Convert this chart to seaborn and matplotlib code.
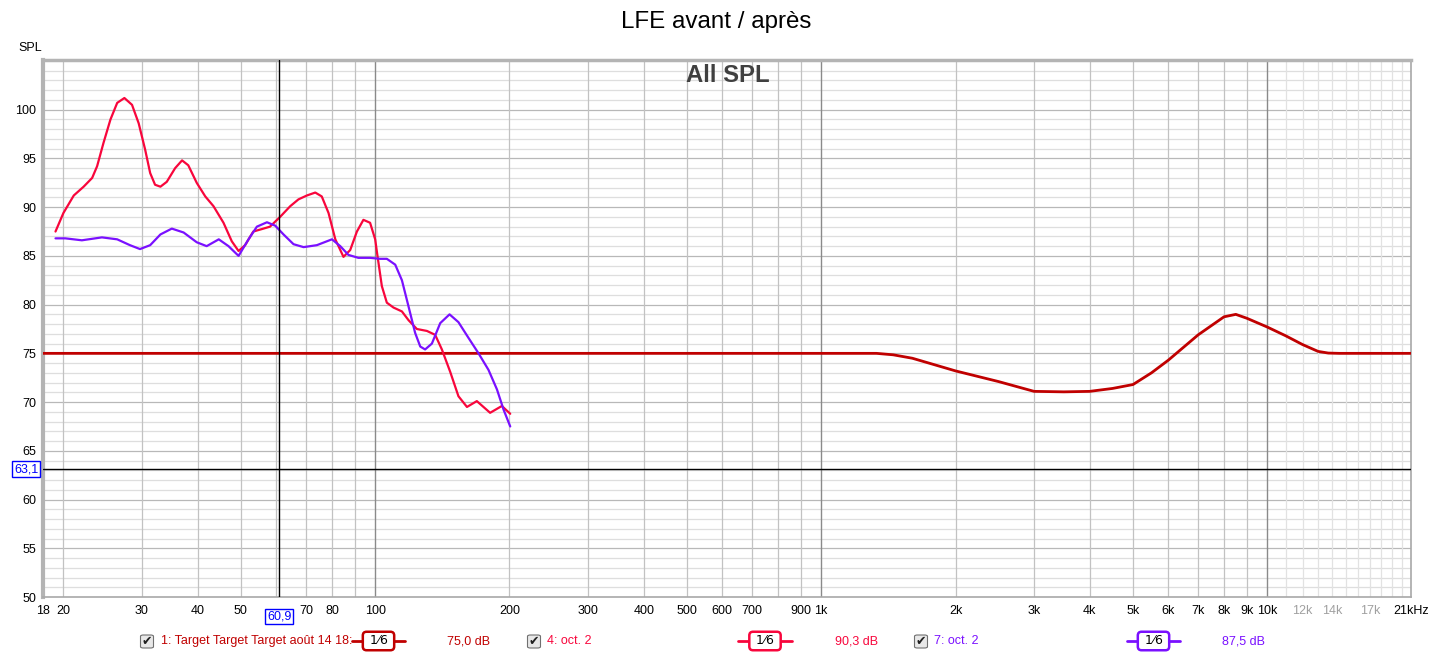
import numpy as np
import pandas as pd
import matplotlib
matplotlib.use("Agg")
import matplotlib.pyplot as plt
import seaborn as sns
from matplotlib.lines import Line2D
from matplotlib.patches import FancyBboxPatch

# ---------------- data ----------------
target_freq = [18, 1000, 1330, 1450, 1600, 2000, 2500, 3000, 3500, 4000, 4500, 5000,
               5500, 6000, 7000, 8000, 8500, 9000, 10000, 11000, 12000, 13000, 13700, 14500, 21000]
target_spl = [75.0, 75.0, 75.0, 74.85, 74.5, 73.2, 72.1, 71.1, 71.05, 71.1, 71.4, 71.8,
              73.0, 74.3, 76.9, 78.75, 79.0, 78.6, 77.7, 76.8, 75.9, 75.2, 75.03, 75.0, 75.0]

red_freq = [19.2, 20.0, 21.1, 22.2, 23.2, 23.8, 24.6, 25.5, 26.4, 27.4, 28.5, 29.5,
            30.5, 31.3, 32.1, 33.0, 34.1, 35.6, 36.9, 38.1, 39.8, 41.6, 43.4, 45.7,
            47.7, 49.4, 51.1, 53.3, 55.7, 58.1, 61.2, 64.5, 67.3, 70.3, 73.4, 75.9,
            78.6, 81.4, 84.9, 87.9, 91.0, 94.1, 97.4, 100.0, 100.9, 103.5, 106.2,
            109.9, 114.8, 118.8, 124.0, 130.6, 136.3, 141.1, 147.3, 153.7, 160.6,
            169.0, 181.0, 192.3, 200.8]
red_spl = [87.5, 89.4, 91.2, 92.1, 93.0, 94.2, 96.6, 99.0, 100.7, 101.2, 100.5, 98.6,
           95.9, 93.5, 92.3, 92.1, 92.6, 94.0, 94.8, 94.3, 92.5, 91.1, 90.1, 88.4,
           86.5, 85.5, 86.1, 87.5, 87.75, 88.0, 89.0, 90.1, 90.8, 91.2, 91.5, 91.1,
           89.4, 86.7, 84.9, 85.6, 87.5, 88.7, 88.4, 86.7, 85.4, 81.9, 80.2,
           79.7, 79.3, 78.4, 77.5, 77.3, 76.9, 75.4, 73.1, 70.6, 69.5,
           70.1, 68.9, 69.6, 68.8]

purple_freq = [19.2, 20.2, 22.0, 24.4, 26.4, 28.2, 29.7, 31.3, 33.0, 35.0, 37.2, 39.8,
               41.9, 44.6, 46.9, 49.4, 52.0, 54.3, 57.2, 59.7, 62.3, 65.6, 69.1, 74.0,
               80.0, 83.5, 87.1, 91.7, 97.4, 102.6, 106.2, 110.9, 114.8, 118.8, 122.9,
               126.2, 129.4, 134.0, 139.9, 146.8, 153.7, 161.8, 170.5, 179.5, 187.5,
               194.1, 200.8]
purple_spl = [86.8, 86.8, 86.6, 86.9, 86.7, 86.1, 85.7, 86.1, 87.2, 87.8, 87.4, 86.4,
              86.0, 86.7, 86.0, 85.0, 86.7, 88.0, 88.45, 88.1, 87.2, 86.2, 85.9, 86.1,
              86.7, 86.0, 85.1, 84.8, 84.8, 84.7, 84.7, 84.1, 82.5, 79.8, 77.1,
              75.7, 75.4, 76.0, 78.1, 79.0, 78.2, 76.6, 75.0, 73.3, 71.3,
              69.2, 67.5]

series_names = ["1: Target Target Target août 14 18:", "4: oct. 2", "7: oct. 2"]
series_colors = ["#c00000", "#f8063c", "#7a10ff"]
series_values = ["75,0 dB", "90,3 dB", "87,5 dB"]

xtick_vals = [18, 20, 30, 40, 50, 70, 80, 100, 200, 300, 400, 500, 600, 700, 900,
              1000, 2000, 3000, 4000, 5000, 6000, 7000, 8000, 9000, 10000,
              12000, 14000, 17000, 21000]
xtick_labels = ["18", "20", "30", "40", "50", "70", "80", "100", "200", "300", "400",
                "500", "600", "700", "900", "1k", "2k", "3k", "4k", "5k", "6k", "7k",
                "8k", "9k", "10k", "12k", "14k", "17k", "21kHz"]
gray_labels = {"12k", "14k", "17k"}
ytick_vals = [50, 55, 60, 65, 70, 75, 80, 85, 90, 95, 100]

cursor_freq = 60.9
cursor_spl = 63.1

# ---------------- plotting ----------------
sns.set_theme(style="white")
plt.rcParams["font.family"] = ["Liberation Sans", "DejaVu Sans"]

W, H = 1433, 655
fig = plt.figure(figsize=(W / 100, H / 100), dpi=100)
fig.patch.set_facecolor("white")

def fx(x):
    return x / W

def fy(y):
    return 1 - y / H

ax = fig.add_axes([fx(43), fy(597), fx(1411) - fx(43), fy(60) - fy(597)])
ax.set_xscale("log")
ax.set_xlim(18, 21000)
ax.set_ylim(50, 105.1)
ax.set_facecolor("white")

# grid
for v in np.arange(51, 106, 1):
    if v % 5 != 0:
        ax.axhline(v, color="#dedede", lw=0.9, zorder=0)
for v in range(55, 105, 5):
    ax.axhline(v, color="#b8b8b8", lw=0.9, zorder=0)
for dec in [10, 100, 1000]:
    for m in range(2, 10):
        f = m * dec
        if 18 < f < 21000:
            ax.axvline(f, color="#c2c2c2", lw=0.9, zorder=0)
for f in [100, 1000, 10000]:
    ax.axvline(f, color="#8a8a8a", lw=1.0, zorder=0)
for f in range(11000, 21000, 1000):
    ax.axvline(f, color="#e2e2e2", lw=0.9, zorder=0)

# curves
df = pd.concat([
    pd.DataFrame({"freq": target_freq, "spl": target_spl, "series": series_names[0]}),
    pd.DataFrame({"freq": red_freq, "spl": red_spl, "series": series_names[1]}),
    pd.DataFrame({"freq": purple_freq, "spl": purple_spl, "series": series_names[2]}),
])
widths = [2.0, 1.6, 1.6]
for name, col, lw in zip(series_names, series_colors, widths):
    sub = df[df["series"] == name]
    sns.lineplot(data=sub, x="freq", y="spl", color=col, lw=lw, ax=ax,
                 estimator=None, sort=True, legend=False, zorder=3)
for line in ax.get_lines():
    line.set_solid_joinstyle("round")

# cursor
ax.axvline(cursor_freq, color="black", lw=1.0, zorder=4)
ax.axhline(cursor_spl, color="black", lw=1.0, zorder=4)

ax.set_xlabel("")
ax.set_ylabel("")
ax.set_xticks(xtick_vals)
ax.set_xticklabels(xtick_labels)
ax.xaxis.set_minor_locator(matplotlib.ticker.NullLocator())
ax.set_yticks(ytick_vals)
ax.set_yticklabels([str(v) for v in ytick_vals])
ax.tick_params(axis="both", length=0, labelsize=9, colors="black")
ax.tick_params(axis="x", pad=6)
ax.tick_params(axis="y", pad=5)
for lab in ax.get_xticklabels():
    if lab.get_text() in gray_labels:
        lab.set_color("#a0a0a0")

for s in ax.spines.values():
    s.set_color("#a8a8a8")
    s.set_linewidth(1.2)
ax.spines["left"].set_linewidth(3)
ax.spines["top"].set_linewidth(2.5)
ax.spines["left"].set_color("#b4b4b4")
ax.spines["top"].set_color("#b4b4b4")

# cursor labels
ax.text(cursor_freq, -0.025, "60,9", transform=ax.get_xaxis_transform(),
        ha="center", va="top", fontsize=9, color="#0000ff",
        bbox=dict(boxstyle="square,pad=0.15", fc="white", ec="#0000ff", lw=1.0), zorder=6)
ax.text(-0.0035, cursor_spl, "63,1", transform=ax.get_yaxis_transform(),
        ha="right", va="center", fontsize=9, color="#0000ff",
        bbox=dict(boxstyle="square,pad=0.15", fc="white", ec="#0000ff", lw=1.0), zorder=6)

# titles
fig.text(0.5, fy(22), "LFE avant / après", ha="center", va="center", fontsize=17.4, color="black")
fig.text(fx(728), fy(75), "All SPL", ha="center", va="center", fontsize=17.2,
         fontweight="bold", color="#404040")
fig.text(fx(30), fy(48), "SPL", ha="center", va="center", fontsize=9, color="black")

# legend row
ly = fy(641)
check_x = [147, 534, 921]
text_x = [161, 547, 934]
line_x = [(352, 405), (738, 792), (1127, 1180)]
val_x = [469, 857, 1243]
for i in range(3):
    cx = check_x[i]
    fig.patches.append(FancyBboxPatch((fx(cx - 6.5), fy(648)), fx(13), fy(635) - fy(648),
                                      boxstyle="round,pad=0,rounding_size=0.002",
                                      transform=fig.transFigure, fc="#e8e8e8", ec="#707070", lw=0.8))
    fig.text(fx(cx), ly, "✔", ha="center", va="center", fontsize=9,
             family=["DejaVu Sans"], color="#202020")
    fig.text(fx(text_x[i]), ly, series_names[i], ha="left", va="center", fontsize=9,
             color=series_colors[i])
    x1, x2 = line_x[i]
    fig.add_artist(Line2D([fx(x1), fx(x2)], [ly, ly], color=series_colors[i], lw=2,
                          transform=fig.transFigure))
    fig.text(fx((x1 + x2) / 2), ly, " 1⁄6 ", ha="center", va="center", fontsize=9,
             color="black", family=["DejaVu Sans"],
             bbox=dict(boxstyle="round,pad=0.22,rounding_size=0.3", fc="white",
                       ec=series_colors[i], lw=1.8))
    fig.text(fx(val_x[i]), ly, series_values[i], ha="center", va="center", fontsize=9,
             color=series_colors[i])

fig.savefig("out.png", dpi=100, facecolor="white")
